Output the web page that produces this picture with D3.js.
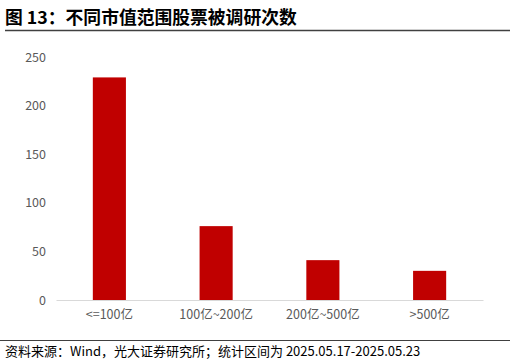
<!DOCTYPE html>
<html>
<head>
  <meta charset="utf-8">
  <script src="https://d3js.org/d3.v7.min.js"></script>
  <style>
    body { margin: 0; background: #fff; }
    text { font-family: "Noto Sans CJK SC", "Noto Sans", sans-serif; }
  </style>
</head>
<body>
  <script>
    var title = "图 13：不同市值范围股票被调研次数";
    var source = "资料来源：Wind，光大证券研究所；统计区间为 2025.05.17-2025.05.23";
    var categories = ["<=100亿", "100亿~200亿", "200亿~500亿", ">500亿"];
    var counts = [229, 76, 41, 30];
    var yTicks = [0, 50, 100, 150, 200, 250];

    var width = 516, height = 364;
    var svg = d3.select("body").append("svg")
      .attr("width", width)
      .attr("height", height);

    // header
    svg.append("text")
      .attr("x", 5).attr("y", 23.5)
      .attr("font-size", 17.8).attr("font-weight", "bold")
      .attr("fill", "#000")
      .text(title);
    svg.append("line")
      .attr("x1", 5).attr("x2", 510)
      .attr("y1", 30.5).attr("y2", 30.5)
      .attr("stroke", "#404040").attr("stroke-width", 1.5);

    // scales
    var x = d3.scaleBand()
      .domain(categories)
      .range([56, 483])
      .paddingInner(0.69)
      .paddingOuter(0.345);
    var y = d3.scaleLinear()
      .domain([0, 250])
      .range([300, 57]);

    // y labels
    var yAxis = d3.axisLeft(y).tickValues(yTicks).tickSize(0).tickPadding(0);
    var gy = svg.append("g")
      .attr("transform", "translate(46,0)")
      .call(yAxis);
    gy.select(".domain").remove();
    gy.selectAll("text")
      .attr("font-size", 12.5)
      .attr("fill", "#595959")
      .style("font-family", "'Noto Sans CJK SC', sans-serif");

    // bars
    svg.selectAll("rect.bar")
      .data(counts)
      .enter().append("rect")
      .attr("class", "bar")
      .attr("x", function(d, i) { return x(categories[i]); })
      .attr("width", x.bandwidth())
      .attr("y", function(d) { return y(d); })
      .attr("height", function(d) { return y(0) - y(d); })
      .attr("fill", "#C00000");

    // x axis
    var xAxis = d3.axisBottom(x).tickSize(0).tickPadding(10);
    var gx = svg.append("g")
      .attr("transform", "translate(0,300)")
      .call(xAxis);
    gx.select(".domain")
      .attr("stroke", "#d9d9d9").attr("stroke-width", 1.2);
    gx.selectAll("text")
      .attr("font-size", 12.5)
      .attr("fill", "#595959")
      .style("font-family", "'Noto Sans CJK SC', sans-serif");

    // footer
    svg.append("line")
      .attr("x1", 0).attr("x2", 510)
      .attr("y1", 340.5).attr("y2", 340.5)
      .attr("stroke", "#404040").attr("stroke-width", 1.2);
    svg.append("text")
      .attr("x", 5).attr("y", 356)
      .attr("font-size", 13)
      .attr("fill", "#000")
      .text(source);
  </script>
</body>
</html>
